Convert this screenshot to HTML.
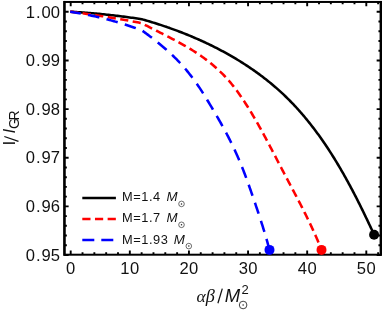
<!DOCTYPE html>
<html><head><meta charset="utf-8"><title>plot</title>
<style>
html,body{margin:0;padding:0;background:#fff;}
svg{display:block;will-change:transform;font-family:"Liberation Sans",sans-serif;}
</style></head><body>
<svg width="382" height="310" viewBox="0 0 382 310">
<rect width="382" height="310" fill="#fff"/>
<rect x="64.43" y="1.96" width="316.42" height="252.73999999999998" fill="none" stroke="#000" stroke-width="2.0"/>
<path d="M64.43,0.96 V255.7" stroke="#000" stroke-width="2.3" fill="none"/>
<path d="M380.85,0.96 V255.7" stroke="#000" stroke-width="2.3" fill="none"/>
<path d="M70.70,254.7 v-4.2 M70.70,1.96 v4.2 M82.52,254.7 v-2.4 M82.52,1.96 v2.4 M94.35,254.7 v-2.4 M94.35,1.96 v2.4 M106.17,254.7 v-2.4 M106.17,1.96 v2.4 M118.00,254.7 v-2.4 M118.00,1.96 v2.4 M129.82,254.7 v-4.2 M129.82,1.96 v4.2 M141.64,254.7 v-2.4 M141.64,1.96 v2.4 M153.47,254.7 v-2.4 M153.47,1.96 v2.4 M165.29,254.7 v-2.4 M165.29,1.96 v2.4 M177.12,254.7 v-2.4 M177.12,1.96 v2.4 M188.94,254.7 v-4.2 M188.94,1.96 v4.2 M200.76,254.7 v-2.4 M200.76,1.96 v2.4 M212.59,254.7 v-2.4 M212.59,1.96 v2.4 M224.41,254.7 v-2.4 M224.41,1.96 v2.4 M236.24,254.7 v-2.4 M236.24,1.96 v2.4 M248.06,254.7 v-4.2 M248.06,1.96 v4.2 M259.88,254.7 v-2.4 M259.88,1.96 v2.4 M271.71,254.7 v-2.4 M271.71,1.96 v2.4 M283.53,254.7 v-2.4 M283.53,1.96 v2.4 M295.36,254.7 v-2.4 M295.36,1.96 v2.4 M307.18,254.7 v-4.2 M307.18,1.96 v4.2 M319.00,254.7 v-2.4 M319.00,1.96 v2.4 M330.83,254.7 v-2.4 M330.83,1.96 v2.4 M342.65,254.7 v-2.4 M342.65,1.96 v2.4 M354.48,254.7 v-2.4 M354.48,1.96 v2.4 M366.30,254.7 v-4.2 M366.30,1.96 v4.2 M378.12,254.7 v-2.4 M378.12,1.96 v2.4 M64.43,11.80 h4.2 M380.85,11.80 h-4.2 M64.43,21.53 h2.4 M380.85,21.53 h-2.4 M64.43,31.26 h2.4 M380.85,31.26 h-2.4 M64.43,40.98 h2.4 M380.85,40.98 h-2.4 M64.43,50.71 h2.4 M380.85,50.71 h-2.4 M64.43,60.44 h4.2 M380.85,60.44 h-4.2 M64.43,70.17 h2.4 M380.85,70.17 h-2.4 M64.43,79.90 h2.4 M380.85,79.90 h-2.4 M64.43,89.62 h2.4 M380.85,89.62 h-2.4 M64.43,99.35 h2.4 M380.85,99.35 h-2.4 M64.43,109.08 h4.2 M380.85,109.08 h-4.2 M64.43,118.81 h2.4 M380.85,118.81 h-2.4 M64.43,128.54 h2.4 M380.85,128.54 h-2.4 M64.43,138.26 h2.4 M380.85,138.26 h-2.4 M64.43,147.99 h2.4 M380.85,147.99 h-2.4 M64.43,157.72 h4.2 M380.85,157.72 h-4.2 M64.43,167.45 h2.4 M380.85,167.45 h-2.4 M64.43,177.18 h2.4 M380.85,177.18 h-2.4 M64.43,186.90 h2.4 M380.85,186.90 h-2.4 M64.43,196.63 h2.4 M380.85,196.63 h-2.4 M64.43,206.36 h4.2 M380.85,206.36 h-4.2 M64.43,216.09 h2.4 M380.85,216.09 h-2.4 M64.43,225.82 h2.4 M380.85,225.82 h-2.4 M64.43,235.54 h2.4 M380.85,235.54 h-2.4 M64.43,245.27 h2.4 M380.85,245.27 h-2.4 M64.43,255.00 h4.2 M380.85,255.00 h-4.2" stroke="#000" stroke-width="1.9" fill="none"/>
<g fill="none" stroke-linejoin="round">
<path d="M70.20,11.70 L71.73,11.79 L73.26,11.88 L74.79,11.97 L76.32,12.06 L77.85,12.16 L79.38,12.26 L80.91,12.37 L82.44,12.48 L83.97,12.59 L85.49,12.71 L87.02,12.82 L88.55,12.94 L90.08,13.07 L91.60,13.20 L93.13,13.33 L94.66,13.46 L96.18,13.60 L97.71,13.74 L99.23,13.88 L100.76,14.03 L102.28,14.18 L103.80,14.33 L105.33,14.49 L106.85,14.65 L108.37,14.81 L109.90,14.98 L111.42,15.15 L112.94,15.32 L114.46,15.49 L115.99,15.67 L117.51,15.86 L119.03,16.04 L120.55,16.23 L122.07,16.42 L123.59,16.61 L125.11,16.81 L126.63,17.01 L128.14,17.22 L129.66,17.43 L131.18,17.64 L132.70,17.85 L134.22,18.07 L135.73,18.29 L137.25,18.51 L138.77,18.74 L140.28,18.97 L141.80,19.20 L143.24,19.61 L144.68,20.02 L146.12,20.44 L147.56,20.87 L149.00,21.30 L150.44,21.73 L151.88,22.17 L153.32,22.61 L154.75,23.06 L156.19,23.51 L157.62,23.97 L159.06,24.44 L160.49,24.91 L161.92,25.38 L163.35,25.86 L164.78,26.34 L166.21,26.83 L167.64,27.33 L169.06,27.82 L170.49,28.33 L171.91,28.84 L173.33,29.35 L174.75,29.87 L176.17,30.40 L177.59,30.93 L179.00,31.46 L180.42,32.00 L181.83,32.55 L183.24,33.10 L184.64,33.66 L186.05,34.22 L187.45,34.79 L188.85,35.36 L190.25,35.94 L191.65,36.52 L193.04,37.11 L194.44,37.71 L195.83,38.31 L197.21,38.91 L198.60,39.52 L199.98,40.14 L201.36,40.76 L202.74,41.39 L204.11,42.02 L205.49,42.66 L206.85,43.31 L208.22,43.96 L209.58,44.61 L210.94,45.27 L212.30,45.94 L213.66,46.61 L215.01,47.29 L216.36,47.98 L217.70,48.67 L219.04,49.36 L220.38,50.06 L221.71,50.77 L223.04,51.48 L224.37,52.20 L225.70,52.93 L227.02,53.66 L228.33,54.40 L229.65,55.14 L230.96,55.89 L232.26,56.64 L233.56,57.40 L234.86,58.17 L236.15,58.94 L237.44,59.72 L238.73,60.50 L240.01,61.29 L241.29,62.09 L242.56,62.89 L243.83,63.70 L245.09,64.51 L246.35,65.33 L247.60,66.16 L248.85,66.99 L250.10,67.83 L251.34,68.68 L252.58,69.53 L253.81,70.39 L255.04,71.25 L256.26,72.12 L257.47,73.00 L258.69,73.88 L259.89,74.77 L261.09,75.67 L262.29,76.57 L263.48,77.48 L264.67,78.39 L265.85,79.31 L267.02,80.24 L268.19,81.17 L269.36,82.12 L270.52,83.06 L271.67,84.02 L272.82,84.98 L273.96,85.94 L275.10,86.92 L276.23,87.89 L277.35,88.88 L278.47,89.87 L279.58,90.87 L280.69,91.88 L281.79,92.89 L282.89,93.91 L283.97,94.94 L285.06,95.97 L286.13,97.01 L287.20,98.05 L288.26,99.11 L289.32,100.17 L290.37,101.23 L291.42,102.30 L292.45,103.38 L293.49,104.47 L294.51,105.56 L295.53,106.65 L296.55,107.76 L297.56,108.86 L298.56,109.98 L299.56,111.10 L300.55,112.23 L301.53,113.36 L302.51,114.49 L303.49,115.64 L304.46,116.78 L305.42,117.94 L306.38,119.10 L307.33,120.26 L308.28,121.43 L309.22,122.60 L310.15,123.78 L311.09,124.97 L312.01,126.16 L312.93,127.35 L313.85,128.55 L314.75,129.75 L315.66,130.96 L316.56,132.17 L317.45,133.39 L318.34,134.61 L319.23,135.83 L320.10,137.06 L320.98,138.30 L321.85,139.53 L322.71,140.78 L323.57,142.02 L324.43,143.27 L325.28,144.52 L326.12,145.78 L326.96,147.04 L327.80,148.30 L328.63,149.57 L329.46,150.84 L330.28,152.12 L331.10,153.40 L331.91,154.68 L332.72,155.96 L333.53,157.25 L334.33,158.54 L335.13,159.83 L335.92,161.13 L336.71,162.42 L337.49,163.73 L338.27,165.03 L339.05,166.34 L339.82,167.65 L340.59,168.96 L341.35,170.27 L342.11,171.59 L342.86,172.91 L343.62,174.23 L344.36,175.55 L345.11,176.87 L345.85,178.20 L346.59,179.53 L347.32,180.86 L348.05,182.19 L348.78,183.52 L349.50,184.86 L350.22,186.19 L350.93,187.53 L351.65,188.87 L352.36,190.21 L353.06,191.55 L353.76,192.90 L354.46,194.24 L355.16,195.59 L355.85,196.93 L356.54,198.28 L357.23,199.63 L357.91,200.97 L358.59,202.32 L359.27,203.67 L359.94,205.02 L360.61,206.37 L361.28,207.72 L361.95,209.07 L362.61,210.42 L363.27,211.78 L363.93,213.13 L364.58,214.48 L365.23,215.83 L365.88,217.18 L366.53,218.53 L367.17,219.88 L367.81,221.23 L368.45,222.58 L369.09,223.93 L369.72,225.28 L370.36,226.63 L370.98,227.98 L371.61,229.32 L372.24,230.67 L372.86,232.01 L373.48,233.36 L374.10,234.70" stroke="#000" stroke-width="2.55"/>
<path d="M70.20,11.70 L71.73,11.89 L73.26,12.08 L74.79,12.28 L76.33,12.47 L77.86,12.67 L79.39,12.88 L80.92,13.08 L82.45,13.29 L83.97,13.50 L85.50,13.71 L87.03,13.92 L88.56,14.14 L90.09,14.36 L91.61,14.58 L93.14,14.80 L94.67,15.03 L96.19,15.26 L97.72,15.49 L99.24,15.72 L100.77,15.95 L102.29,16.19 L103.82,16.43 L105.34,16.67 L106.86,16.92 L108.39,17.17 L109.91,17.41 L111.43,17.67 L112.95,17.92 L114.48,18.18 L116.00,18.44 L117.52,18.70 L119.04,18.96 L120.56,19.23 L122.08,19.50 L123.60,19.77 L125.12,20.04 L126.64,20.31 L128.15,20.59 L129.67,20.87 L131.19,21.16 L132.71,21.44 L134.22,21.73 L135.74,22.02 L137.25,22.31 L138.77,22.60 L140.29,22.90 L141.80,23.20 L143.12,23.90 L144.44,24.59 L145.77,25.28 L147.10,25.97 L148.43,26.65 L149.77,27.34 L151.11,28.02 L152.45,28.70 L153.79,29.39 L155.13,30.07 L156.48,30.75 L157.82,31.43 L159.17,32.11 L160.51,32.79 L161.86,33.48 L163.21,34.16 L164.56,34.85 L165.90,35.54 L167.25,36.23 L168.59,36.92 L169.94,37.62 L171.28,38.32 L172.62,39.03 L173.96,39.73 L175.29,40.45 L176.63,41.16 L177.96,41.89 L179.28,42.61 L180.61,43.35 L181.93,44.08 L183.25,44.83 L184.56,45.58 L185.87,46.34 L187.18,47.10 L188.48,47.87 L189.77,48.65 L191.06,49.44 L192.35,50.24 L193.63,51.04 L194.90,51.85 L196.17,52.68 L197.43,53.51 L198.69,54.35 L199.93,55.20 L201.17,56.06 L202.41,56.94 L203.63,57.82 L204.85,58.71 L206.06,59.62 L207.26,60.53 L208.45,61.46 L209.63,62.39 L210.81,63.34 L211.97,64.30 L213.13,65.26 L214.27,66.24 L215.41,67.23 L216.53,68.22 L217.65,69.23 L218.75,70.25 L219.84,71.28 L220.92,72.32 L221.99,73.37 L223.05,74.43 L224.09,75.50 L225.13,76.58 L226.15,77.67 L227.15,78.78 L228.15,79.89 L229.13,81.01 L230.10,82.14 L231.05,83.29 L232.00,84.44 L232.93,85.60 L233.85,86.77 L234.77,87.95 L235.67,89.14 L236.56,90.33 L237.44,91.54 L238.32,92.75 L239.19,93.97 L240.04,95.19 L240.90,96.42 L241.74,97.66 L242.58,98.91 L243.42,100.16 L244.25,101.42 L245.07,102.68 L245.89,103.95 L246.70,105.22 L247.51,106.50 L248.31,107.78 L249.10,109.06 L249.90,110.35 L250.68,111.64 L251.46,112.94 L252.24,114.24 L253.01,115.54 L253.78,116.84 L254.54,118.15 L255.30,119.46 L256.06,120.77 L256.81,122.08 L257.56,123.39 L258.30,124.71 L259.05,126.03 L259.78,127.35 L260.52,128.67 L261.25,129.99 L261.98,131.32 L262.70,132.65 L263.43,133.97 L264.15,135.30 L264.86,136.64 L265.58,137.97 L266.29,139.30 L267.01,140.64 L267.72,141.97 L268.42,143.31 L269.13,144.64 L269.83,145.98 L270.54,147.32 L271.24,148.66 L271.94,150.00 L272.64,151.34 L273.34,152.68 L274.04,154.02 L274.74,155.36 L275.44,156.70 L276.13,158.04 L276.83,159.38 L277.53,160.72 L278.23,162.06 L278.92,163.40 L279.62,164.74 L280.32,166.08 L281.02,167.42 L281.72,168.76 L282.42,170.09 L283.12,171.43 L283.82,172.77 L284.53,174.10 L285.23,175.44 L285.94,176.77 L286.64,178.10 L287.35,179.44 L288.06,180.77 L288.76,182.10 L289.47,183.43 L290.18,184.76 L290.88,186.10 L291.59,187.43 L292.30,188.76 L293.00,190.09 L293.70,191.42 L294.41,192.76 L295.11,194.09 L295.81,195.42 L296.51,196.75 L297.21,198.09 L297.91,199.42 L298.60,200.76 L299.30,202.10 L299.99,203.43 L300.68,204.77 L301.37,206.11 L302.05,207.45 L302.74,208.79 L303.42,210.13 L304.10,211.48 L304.77,212.82 L305.44,214.17 L306.11,215.52 L306.78,216.86 L307.44,218.22 L308.10,219.57 L308.76,220.92 L309.41,222.28 L310.06,223.64 L310.71,225.00 L311.35,226.36 L311.98,227.72 L312.62,229.09 L313.24,230.46 L313.87,231.83 L314.49,233.20 L315.10,234.58 L315.71,235.96 L316.31,237.34 L316.91,238.72 L317.50,240.11 L318.09,241.50 L318.68,242.89 L319.25,244.29 L319.82,245.69 L320.39,247.09 L320.95,248.49 L321.50,249.90" stroke="#f00" stroke-width="2.55" stroke-dasharray="8.2 4.47" stroke-dashoffset="0.1"/>
<path d="M70.20,11.70 L71.73,11.94 L73.26,12.19 L74.79,12.44 L76.31,12.70 L77.84,12.96 L79.36,13.23 L80.88,13.51 L82.40,13.79 L83.92,14.08 L85.43,14.38 L86.95,14.68 L88.46,14.99 L89.97,15.30 L91.48,15.63 L92.99,15.95 L94.49,16.29 L96.00,16.63 L97.50,16.97 L99.00,17.33 L100.50,17.69 L102.00,18.05 L103.49,18.42 L104.99,18.80 L106.48,19.19 L107.97,19.58 L109.46,19.97 L110.95,20.38 L112.43,20.79 L113.92,21.20 L115.40,21.62 L116.88,22.05 L118.36,22.49 L119.84,22.93 L121.31,23.38 L122.79,23.83 L124.26,24.29 L125.73,24.75 L127.20,25.23 L128.67,25.71 L130.13,26.19 L131.60,26.68 L133.06,27.18 L134.52,27.68 L135.98,28.20 L137.44,28.71 L138.89,29.23 L140.35,29.76 L141.80,30.30 L142.96,31.15 L144.13,32.01 L145.31,32.88 L146.49,33.76 L147.68,34.64 L148.87,35.54 L150.06,36.44 L151.25,37.35 L152.45,38.27 L153.65,39.20 L154.84,40.14 L156.04,41.08 L157.24,42.04 L158.43,43.00 L159.62,43.97 L160.81,44.95 L161.99,45.93 L163.17,46.93 L164.35,47.93 L165.52,48.94 L166.68,49.95 L167.83,50.98 L168.98,52.01 L170.12,53.05 L171.24,54.10 L172.36,55.16 L173.47,56.22 L174.56,57.29 L175.65,58.37 L176.72,59.45 L177.78,60.55 L178.83,61.64 L179.87,62.75 L180.90,63.86 L181.92,64.98 L182.93,66.11 L183.93,67.24 L184.91,68.38 L185.89,69.53 L186.85,70.68 L187.80,71.84 L188.75,73.00 L189.68,74.17 L190.60,75.35 L191.51,76.53 L192.41,77.72 L193.30,78.91 L194.18,80.11 L195.05,81.31 L195.91,82.52 L196.77,83.74 L197.61,84.96 L198.45,86.18 L199.27,87.41 L200.10,88.65 L200.91,89.89 L201.72,91.13 L202.52,92.38 L203.32,93.63 L204.11,94.89 L204.90,96.15 L205.68,97.42 L206.46,98.69 L207.24,99.96 L208.01,101.24 L208.79,102.53 L209.56,103.81 L210.33,105.10 L211.10,106.40 L211.86,107.69 L212.63,108.99 L213.40,110.30 L214.17,111.61 L214.94,112.92 L215.71,114.23 L216.47,115.55 L217.24,116.87 L218.01,118.19 L218.77,119.51 L219.53,120.84 L220.29,122.17 L221.04,123.50 L221.79,124.84 L222.53,126.18 L223.28,127.52 L224.01,128.86 L224.74,130.20 L225.47,131.55 L226.19,132.89 L226.90,134.24 L227.61,135.59 L228.31,136.94 L229.00,138.30 L229.69,139.65 L230.37,141.01 L231.04,142.37 L231.71,143.73 L232.37,145.09 L233.02,146.46 L233.67,147.82 L234.31,149.19 L234.95,150.56 L235.57,151.93 L236.20,153.30 L236.81,154.68 L237.42,156.05 L238.03,157.43 L238.62,158.81 L239.21,160.19 L239.80,161.57 L240.37,162.95 L240.95,164.34 L241.51,165.72 L242.07,167.11 L242.62,168.50 L243.17,169.89 L243.71,171.28 L244.25,172.68 L244.78,174.07 L245.30,175.47 L245.82,176.87 L246.34,178.27 L246.85,179.67 L247.36,181.07 L247.87,182.48 L248.37,183.88 L248.87,185.29 L249.37,186.70 L249.86,188.10 L250.36,189.52 L250.85,190.93 L251.34,192.34 L251.83,193.76 L252.32,195.17 L252.81,196.59 L253.30,198.01 L253.79,199.43 L254.28,200.85 L254.76,202.27 L255.25,203.70 L255.73,205.12 L256.21,206.55 L256.70,207.98 L257.18,209.41 L257.66,210.84 L258.13,212.27 L258.61,213.70 L259.08,215.14 L259.55,216.57 L260.02,218.01 L260.49,219.45 L260.95,220.89 L261.41,222.33 L261.87,223.77 L262.32,225.21 L262.78,226.65 L263.22,228.10 L263.67,229.54 L264.11,230.99 L264.55,232.44 L264.99,233.89 L265.42,235.34 L265.85,236.79 L266.27,238.24 L266.69,239.70 L267.11,241.15 L267.52,242.61 L267.92,244.06 L268.32,245.52 L268.72,246.98 L269.11,248.44 L269.50,249.90" stroke="#00f" stroke-width="2.55" stroke-dasharray="11.6 7.4" stroke-dashoffset="0.9"/>
</g>
<circle cx="374.1" cy="234.7" r="5" fill="#000"/>
<circle cx="321.5" cy="249.9" r="5" fill="#f00"/>
<circle cx="269.5" cy="249.9" r="5" fill="#00f"/>
<g font-size="16.6px" fill="#111"><text x="70.7" y="273.7" text-anchor="middle" letter-spacing="0.4">0</text><text x="130.0" y="273.7" text-anchor="middle" letter-spacing="0.4">10</text><text x="189.1" y="273.7" text-anchor="middle" letter-spacing="0.4">20</text><text x="248.3" y="273.7" text-anchor="middle" letter-spacing="0.4">30</text><text x="307.4" y="273.7" text-anchor="middle" letter-spacing="0.4">40</text><text x="366.5" y="273.7" text-anchor="middle" letter-spacing="0.4">50</text><text x="59.9" y="17.5" text-anchor="end">1<tspan dx="0.9">.</tspan><tspan dx="0.9">00</tspan></text><text x="59.9" y="66.1" text-anchor="end">0<tspan dx="0.9">.</tspan><tspan dx="0.9">99</tspan></text><text x="59.9" y="114.8" text-anchor="end">0<tspan dx="0.9">.</tspan><tspan dx="0.9">98</tspan></text><text x="59.9" y="163.4" text-anchor="end">0<tspan dx="0.9">.</tspan><tspan dx="0.9">97</tspan></text><text x="59.9" y="212.1" text-anchor="end">0<tspan dx="0.9">.</tspan><tspan dx="0.9">96</tspan></text><text x="59.9" y="260.7" text-anchor="end">0<tspan dx="0.9">.</tspan><tspan dx="0.9">95</tspan></text></g>
<!-- legend -->
<g fill="none" stroke-width="2.5">
<path d="M82.3,197.9 H115.9" stroke="#000"/>
<path d="M82.3,219.0 H116.0" stroke="#f00" stroke-dasharray="8.2 4.47"/>
<path d="M82.3,240.1 H116.3" stroke="#00f" stroke-dasharray="12 7"/>
</g>
<g font-size="12.8px" fill="#111" letter-spacing="0.6">
<text x="121.9" y="201.3">M=1.4</text><text x="166.4" y="201.3" font-style="italic" font-size="13.3px">M</text>
<text x="121.9" y="222.2">M=1.7</text><text x="166.4" y="222.2" font-style="italic" font-size="13.3px">M</text>
<text x="121.9" y="243.8">M=1.93</text><text x="173.8" y="243.8" font-style="italic" font-size="13.3px">M</text>
</g>
<circle cx="181.5" cy="203.9" r="2.8" fill="none" stroke="#222" stroke-width="0.65"/><circle cx="181.5" cy="203.9" r="0.75" fill="#222"/><circle cx="181.5" cy="224.8" r="2.8" fill="none" stroke="#222" stroke-width="0.65"/><circle cx="181.5" cy="224.8" r="0.75" fill="#222"/><circle cx="188.8" cy="246.1" r="2.8" fill="none" stroke="#222" stroke-width="0.65"/><circle cx="188.8" cy="246.1" r="0.75" fill="#222"/>
<!-- x label -->
<g fill="#111">
<text x="196.6" y="301.8" font-family="Liberation Serif" font-style="italic" font-size="17.5px">α<tspan font-size="18.3px">β</tspan></text>
<path d="M217.9,303.3 L222.3,288.6" stroke="#111" stroke-width="1.25" fill="none"/>
<text x="224.8" y="301.8" font-size="18.5px" font-style="italic">M</text>
<text x="241.4" y="294.4" font-size="13px">2</text>
</g>
<circle cx="243.1" cy="305.0" r="3.8" fill="none" stroke="#222" stroke-width="0.85"/><circle cx="243.1" cy="305.0" r="0.75" fill="#222"/>
<!-- y label -->
<g transform="translate(14.9,144.5) rotate(-90)" fill="#111">
<text x="-1.1" y="0" font-size="17.2px">I</text>
<path d="M3.1,3.6 L8.0,-10.6" stroke="#111" stroke-width="1.25" fill="none"/>
<text x="11.1" y="0" font-size="17.2px" font-style="italic">I</text>
<text x="15.6" y="4.5" font-size="14px" letter-spacing="-2.5">GR</text>
</g>
</svg>
</body></html>
